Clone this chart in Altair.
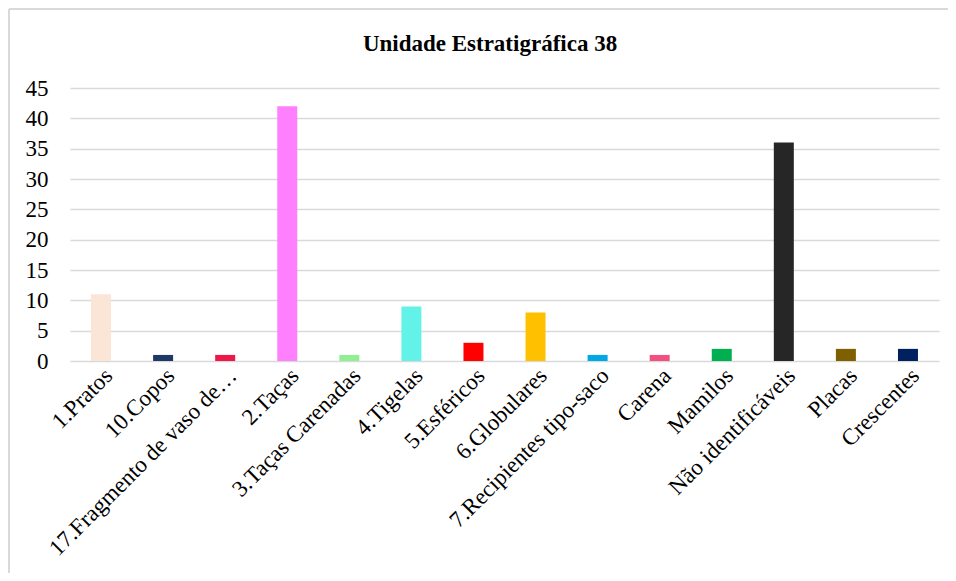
import altair as alt
import pandas as pd

title_text = "Unidade Estratigráfica 38"
categories = ["1.Pratos", "10.Copos", "17.Fragmento de vaso de…", "2.Taças",
              "3.Taças  Carenadas", "4.Tigelas", "5.Esféricos", "6.Globulares",
              "7.Recipientes tipo-saco", "Carena", "Mamilos", "Não identificáveis",
              "Placas", "Crescentes"]
values = [11, 1, 1, 42, 1, 9, 3, 8, 1, 1, 2, 36, 2, 2]
colors = ["#FAE5D7", "#1F3864", "#EE1848", "#FF80FF", "#92EE92", "#62F2E8",
          "#FF0000", "#FFC000", "#00A8E4", "#F25080", "#00B050", "#262626",
          "#7F6000", "#002060"]
y_ticks = [0, 5, 10, 15, 20, 25, 30, 35, 40, 45]

df = pd.DataFrame({"cat": categories, "val": values})
tdf = pd.DataFrame({"t": [title_text]})

FONT = "Liberation Serif"
TFONT = "'Liberation Serif', 'Times New Roman', serif"

bars = alt.Chart(df).mark_bar(size=20).encode(
    x=alt.X("cat:N", sort=None, title=None,
            scale=alt.Scale(paddingInner=0, paddingOuter=0),
            axis=alt.Axis(labelAngle=-45, labelFont=FONT, labelFontSize=23,
                          labelColor="#000000", labelLimit=0, labelPadding=3,
                          ticks=False, domain=False, grid=False)),
    y=alt.Y("val:Q", title=None,
            scale=alt.Scale(domain=[0, 45], nice=False),
            axis=alt.Axis(values=y_ticks, labelFont=FONT, labelFontSize=23,
                          labelColor="#000000", labelPadding=22, ticks=False,
                          domain=False, grid=True, gridColor="#d9d9d9",
                          gridWidth=1.5)),
    color=alt.Color("cat:N", sort=None, legend=None,
                    scale=alt.Scale(domain=categories, range=colors)),
)

border_left = alt.Chart(df).mark_rule(color="#d9d9d9", strokeWidth=2).encode(
    x=alt.value(-61), y=alt.value(-79), y2=alt.value(500))
border_top = alt.Chart(df).mark_rule(color="#d9d9d9", strokeWidth=2).encode(
    x=alt.value(-61), x2=alt.value(900), y=alt.value(-79))

title = alt.Chart(tdf).mark_text(font=TFONT, fontSize=23, fontWeight=700,
                                 color="#000000", align="center",
                                 baseline="middle").encode(
    text="t:N", x=alt.value(420), y=alt.value(-44))

chart = alt.layer(border_left, border_top, bars, title).properties(
    width=869, height=273,
    autosize=alt.AutoSizeParams(type="none"),
    padding={"left": 62, "top": 80, "right": 9, "bottom": 212},
).configure_view(stroke=None)

chart.save("out.html", embed_options={"renderer": "svg", "actions": False})
